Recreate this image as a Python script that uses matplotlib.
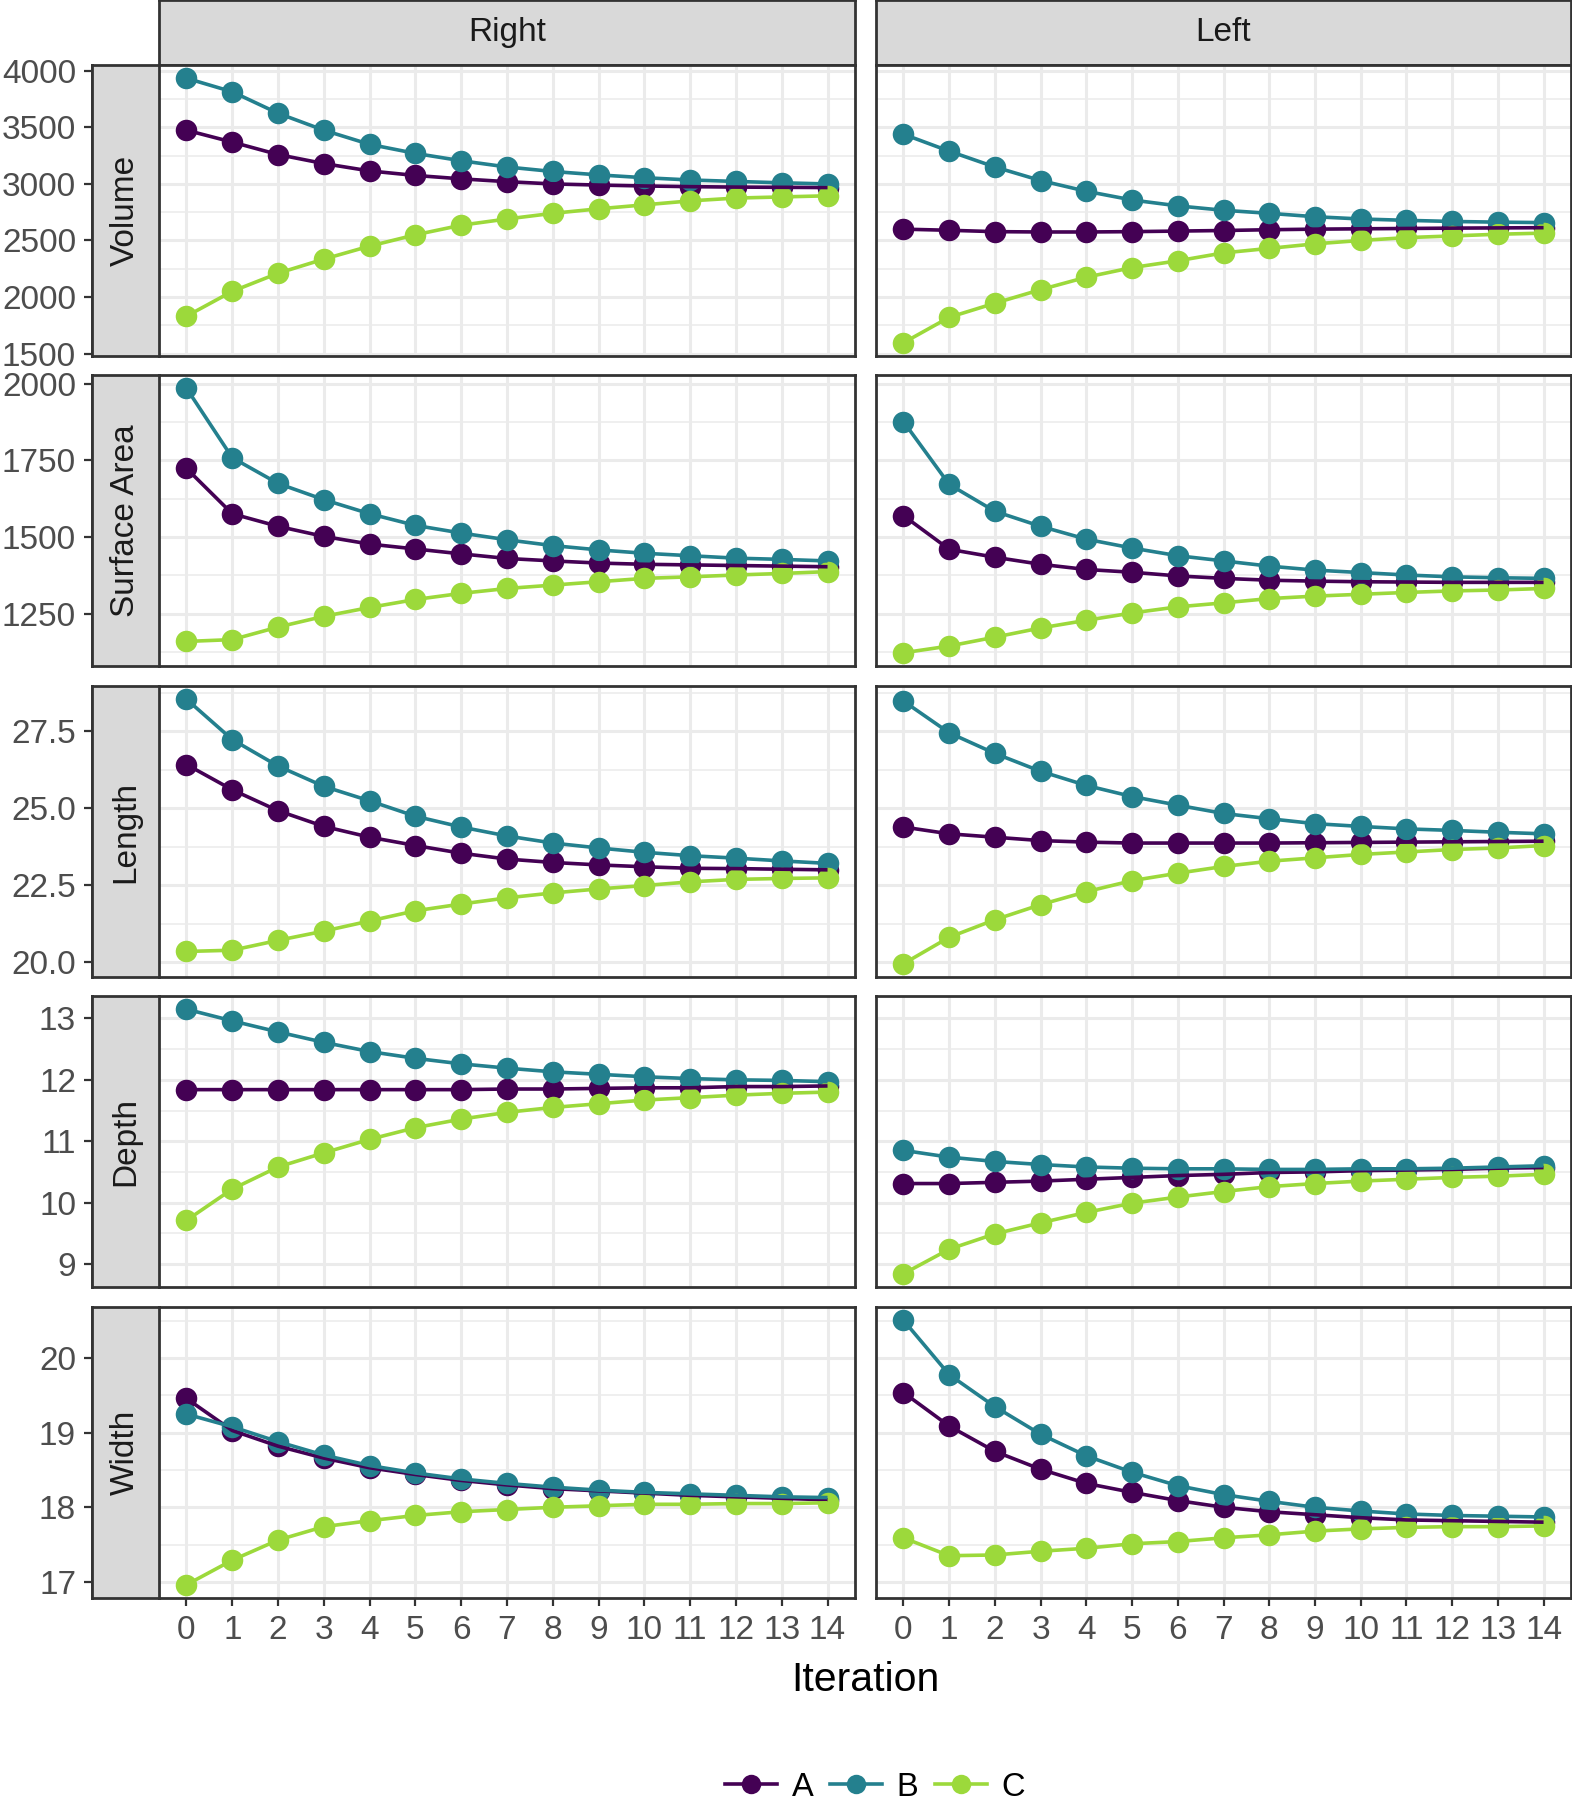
#!/usr/bin/env python3
"""Iteration convergence of shape metrics, Right vs Left, groups A/B/C (facet grid)."""

import matplotlib

matplotlib.use("Agg")
import matplotlib.pyplot as plt
import numpy as np
from matplotlib.lines import Line2D
from matplotlib.ticker import FormatStrFormatter, MultipleLocator

plt.rcParams["font.family"] = ["Liberation Sans", "DejaVu Sans"]

ITERATION = list(range(15))
GROUPS = ["A", "B", "C"]
SIDES = ["Right", "Left"]
METRICS = ["Volume", "Surface Area", "Length", "Depth", "Width"]

# Volume
VOLUME_RIGHT_A = [3475, 3370, 3260, 3180, 3115, 3075, 3045, 3020, 3000, 2990, 2982, 2976, 2972, 2970, 2968]
VOLUME_RIGHT_B = [3935, 3815, 3625, 3475, 3350, 3270, 3205, 3150, 3110, 3080, 3055, 3035, 3022, 3010, 3000]
VOLUME_RIGHT_C = [1830, 2050, 2210, 2335, 2450, 2550, 2635, 2690, 2740, 2780, 2815, 2850, 2875, 2885, 2895]
VOLUME_LEFT_A = [2600, 2590, 2578, 2575, 2575, 2578, 2583, 2588, 2595, 2600, 2603, 2606, 2609, 2611, 2613]
VOLUME_LEFT_B = [3440, 3290, 3150, 3030, 2935, 2858, 2806, 2767, 2740, 2710, 2690, 2678, 2668, 2662, 2658]
VOLUME_LEFT_C = [1595, 1820, 1945, 2065, 2175, 2260, 2320, 2390, 2430, 2470, 2500, 2525, 2540, 2555, 2565]

# Surface area
SURFACE_RIGHT_A = [1724, 1576, 1535, 1502, 1477, 1461, 1445, 1430, 1422, 1415, 1411, 1409, 1407, 1405, 1403]
SURFACE_RIGHT_B = [1986, 1759, 1675, 1622, 1576, 1538, 1513, 1491, 1472, 1458, 1447, 1439, 1431, 1427, 1422]
SURFACE_RIGHT_C = [1159, 1165, 1206, 1241, 1270, 1296, 1316, 1332, 1343, 1354, 1365, 1370, 1376, 1381, 1387]
SURFACE_LEFT_A = [1570, 1460, 1434, 1411, 1394, 1385, 1373, 1365, 1359, 1356, 1354, 1353, 1352, 1352, 1352]
SURFACE_LEFT_B = [1877, 1672, 1584, 1535, 1493, 1464, 1439, 1422, 1405, 1392, 1384, 1376, 1370, 1367, 1365]
SURFACE_LEFT_C = [1122, 1144, 1173, 1203, 1228, 1252, 1272, 1285, 1299, 1307, 1313, 1319, 1324, 1327, 1332]

# Length
LENGTH_RIGHT_A = [26.42, 25.60, 24.92, 24.41, 24.06, 23.79, 23.54, 23.35, 23.24, 23.16, 23.10, 23.05, 23.04, 23.02, 23.00]
LENGTH_RIGHT_B = [28.54, 27.23, 26.37, 25.71, 25.24, 24.74, 24.39, 24.10, 23.87, 23.71, 23.57, 23.46, 23.38, 23.29, 23.21]
LENGTH_RIGHT_C = [20.35, 20.39, 20.71, 21.01, 21.34, 21.67, 21.89, 22.09, 22.25, 22.38, 22.49, 22.61, 22.69, 22.72, 22.74]
LENGTH_LEFT_A = [24.39, 24.17, 24.06, 23.95, 23.90, 23.87, 23.87, 23.87, 23.87, 23.88, 23.89, 23.90, 23.91, 23.92, 23.93]
LENGTH_LEFT_B = [28.48, 27.45, 26.78, 26.20, 25.74, 25.38, 25.10, 24.83, 24.66, 24.50, 24.41, 24.33, 24.28, 24.22, 24.17]
LENGTH_LEFT_C = [19.95, 20.81, 21.38, 21.87, 22.29, 22.65, 22.89, 23.11, 23.28, 23.39, 23.50, 23.58, 23.66, 23.71, 23.79]

# Depth
DEPTH_RIGHT_A = [11.84, 11.84, 11.84, 11.84, 11.84, 11.84, 11.84, 11.85, 11.85, 11.86, 11.87, 11.87, 11.89, 11.89, 11.90]
DEPTH_RIGHT_B = [13.15, 12.96, 12.78, 12.61, 12.46, 12.35, 12.26, 12.19, 12.13, 12.09, 12.05, 12.02, 12.00, 11.99, 11.97]
DEPTH_RIGHT_C = [9.71, 10.22, 10.58, 10.81, 11.03, 11.22, 11.36, 11.47, 11.55, 11.61, 11.67, 11.71, 11.75, 11.78, 11.80]
DEPTH_LEFT_A = [10.31, 10.31, 10.33, 10.35, 10.38, 10.41, 10.44, 10.46, 10.49, 10.50, 10.52, 10.53, 10.54, 10.56, 10.57]
DEPTH_LEFT_B = [10.85, 10.74, 10.67, 10.62, 10.58, 10.56, 10.55, 10.55, 10.54, 10.54, 10.55, 10.55, 10.56, 10.58, 10.60]
DEPTH_LEFT_C = [8.84, 9.24, 9.49, 9.67, 9.84, 9.99, 10.09, 10.18, 10.26, 10.31, 10.35, 10.38, 10.41, 10.43, 10.46]

# Width
WIDTH_RIGHT_A = [19.46, 19.03, 18.82, 18.66, 18.53, 18.44, 18.36, 18.30, 18.25, 18.22, 18.19, 18.16, 18.14, 18.12, 18.10]
WIDTH_RIGHT_B = [19.25, 19.08, 18.88, 18.70, 18.56, 18.46, 18.38, 18.32, 18.27, 18.23, 18.20, 18.18, 18.16, 18.14, 18.13]
WIDTH_RIGHT_C = [16.96, 17.29, 17.56, 17.74, 17.82, 17.89, 17.94, 17.97, 18.00, 18.02, 18.04, 18.04, 18.05, 18.05, 18.06]
WIDTH_LEFT_A = [19.54, 19.09, 18.75, 18.51, 18.32, 18.20, 18.09, 18.00, 17.94, 17.90, 17.86, 17.83, 17.82, 17.81, 17.80]
WIDTH_LEFT_B = [20.51, 19.78, 19.35, 18.98, 18.69, 18.47, 18.29, 18.17, 18.08, 18.00, 17.95, 17.91, 17.89, 17.88, 17.87]
WIDTH_LEFT_C = [17.59, 17.35, 17.36, 17.41, 17.45, 17.51, 17.54, 17.59, 17.63, 17.68, 17.71, 17.73, 17.74, 17.74, 17.75]

SERIES = {
    ("Volume", "Right"): [VOLUME_RIGHT_A, VOLUME_RIGHT_B, VOLUME_RIGHT_C],
    ("Volume", "Left"): [VOLUME_LEFT_A, VOLUME_LEFT_B, VOLUME_LEFT_C],
    ("Surface Area", "Right"): [SURFACE_RIGHT_A, SURFACE_RIGHT_B, SURFACE_RIGHT_C],
    ("Surface Area", "Left"): [SURFACE_LEFT_A, SURFACE_LEFT_B, SURFACE_LEFT_C],
    ("Length", "Right"): [LENGTH_RIGHT_A, LENGTH_RIGHT_B, LENGTH_RIGHT_C],
    ("Length", "Left"): [LENGTH_LEFT_A, LENGTH_LEFT_B, LENGTH_LEFT_C],
    ("Depth", "Right"): [DEPTH_RIGHT_A, DEPTH_RIGHT_B, DEPTH_RIGHT_C],
    ("Depth", "Left"): [DEPTH_LEFT_A, DEPTH_LEFT_B, DEPTH_LEFT_C],
    ("Width", "Right"): [WIDTH_RIGHT_A, WIDTH_RIGHT_B, WIDTH_RIGHT_C],
    ("Width", "Left"): [WIDTH_LEFT_A, WIDTH_LEFT_B, WIDTH_LEFT_C],
}

# major / minor y steps per row
Y_STEPS = {
    "Volume": (500, 250),
    "Surface Area": (250, 125),
    "Length": (2.5, 1.25),
    "Depth": (1, 0.5),
    "Width": (1, 0.5),
}

COLORS = ["#440154", "#24808E", "#9CD93B"]
STRIP_FILL = "#D9D9D9"
DARK = "#333333"
GRID = "#EBEBEB"

W, H = 1572, 1800
PT = 72 / 100  # points per pixel at dpi 100


def rect(x0, y0, x1, y1):
    return [x0 / W, 1 - y1 / H, (x1 - x0) / W, (y1 - y0) / H]


def strip(fig, box, label, rotation=0):
    ax = fig.add_axes(rect(*box))
    ax.set_facecolor(STRIP_FILL)
    ax.set_xticks([])
    ax.set_yticks([])
    for s in ax.spines.values():
        s.set_color(DARK)
        s.set_linewidth(2.0)
    ax.text(0.5, 0.5, label, rotation=rotation, ha="center", va="center",
            fontsize=24, color="#1A1A1A", transform=ax.transAxes)
    return ax


fig = plt.figure(figsize=(W / 100, H / 100), dpi=100)
fig.patch.set_facecolor("white")

col_x = {"Right": (159, 855), "Left": (876, 1571)}
row_y = [(65, 356), (375, 666), (686, 977), (996, 1287), (1307, 1598)]
strip_left = 92

for side in SIDES:
    x0, x1 = col_x[side]
    strip(fig, (x0, 0, x1, 65), side)

for r, metric in enumerate(METRICS):
    y0, y1 = row_y[r]
    allvals = np.concatenate([np.asarray(v) for side in SIDES for v in SERIES[(metric, side)]])
    lo, hi = allvals.min(), allvals.max()
    pad = 0.05 * (hi - lo)
    major, minor = Y_STEPS[metric]

    for side in SIDES:
        x0, x1 = col_x[side]
        ax = fig.add_axes(rect(x0, y0, x1, y1))
        ax.set_xlim(-0.6, 14.6)
        ax.set_ylim(lo - pad, hi + pad)
        ax.yaxis.set_major_locator(MultipleLocator(major))
        ax.yaxis.set_minor_locator(MultipleLocator(minor))
        ax.set_xticks(ITERATION)
        ax.grid(which="major", color=GRID, linewidth=2.2, zorder=0)
        ax.grid(which="minor", axis="y", color=GRID, linewidth=1.1, zorder=0)
        ax.set_axisbelow(True)
        for s in ax.spines.values():
            s.set_color(DARK)
            s.set_linewidth(2.0)
        ax.tick_params(which="minor", length=0)
        ax.tick_params(which="major", color=DARK, width=1.6, length=8 * PT,
                       labelsize=24, labelcolor="#4D4D4D")

        series = SERIES[(metric, side)]
        for vals, c in zip(series, COLORS):
            ax.plot(ITERATION, vals, linestyle="none", marker="o", markersize=15.5,
                    color=c, markeredgewidth=0, zorder=3)
        for vals, c in zip(series, COLORS):
            ax.plot(ITERATION, vals, color=c, linewidth=2.6, zorder=4,
                    solid_capstyle="butt")

        if side == "Right":
            ax.spines["left"].set_position(("outward", (x0 - strip_left) * PT))
            ax.tick_params(axis="y", pad=8 * PT)
            if metric == "Length":
                ax.yaxis.set_major_formatter(FormatStrFormatter("%.1f"))
            else:
                ax.yaxis.set_major_formatter(FormatStrFormatter("%g"))
        else:
            ax.tick_params(axis="y", left=False, labelleft=False)

        if r == len(METRICS) - 1:
            ax.tick_params(axis="x", pad=9 * PT)
        else:
            ax.tick_params(axis="x", bottom=False, labelbottom=False)

    strip(fig, (strip_left, y0, col_x["Right"][0], y1), metric, rotation=90)

fig.text(865 / W, 1 - 1680 / H, "Iteration", ha="center", va="center",
         fontsize=29.5, color="black")

handles = [Line2D([0], [0], color=c, linewidth=2.6, marker="o", markersize=14,
                  markeredgewidth=0) for c in COLORS]
fig.legend(handles, GROUPS, loc="center", bbox_to_anchor=(875 / W, 1 - 1787 / H),
           ncol=3, frameon=False, fontsize=23.5, handlelength=1.6,
           handletextpad=0.45, columnspacing=0.5, borderpad=0)

fig.savefig("out.png", dpi=100, facecolor="white")
